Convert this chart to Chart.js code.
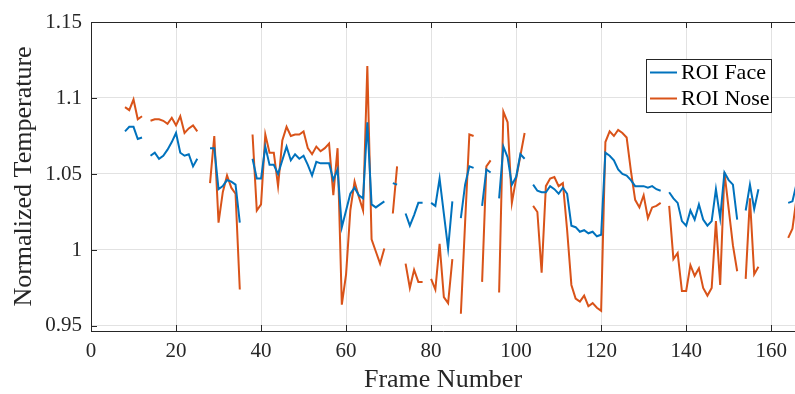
<!DOCTYPE html>
<html>
<head>
<meta charset="utf-8">
<title>Normalized Temperature</title>
<script src="https://cdn.jsdelivr.net/npm/chart.js@4.4.0/dist/chart.umd.min.js"></script>
<style>
  html, body { margin: 0; padding: 0; background: #fff; }
  #wrap { width: 795px; height: 394px; }
</style>
</head>
<body>
<div id="wrap"><canvas id="tempChart" width="795" height="394"></canvas></div>
<script>
// frame numbers and the two ROI series (null = frame dropped)
const frames = [
  8, 9, 10, 11, 12, 13, 14, 15, 16, 17,
  18, 19, 20, 21, 22, 23, 24, 25, 26, 27,
  28, 29, 30, 31, 32, 33, 34, 35, 36, 37,
  38, 39, 40, 41, 42, 43, 44, 45, 46, 47,
  48, 49, 50, 51, 52, 53, 54, 55, 56, 57,
  58, 59, 60, 61, 62, 63, 64, 65, 66, 67,
  68, 69, 70, 71, 72, 73, 74, 75, 76, 77,
  78, 79, 80, 81, 82, 83, 84, 85, 86, 87,
  88, 89, 90, 91, 92, 93, 94, 95, 96, 97,
  98, 99, 100, 101, 102, 103, 104, 105, 106, 107,
  108, 109, 110, 111, 112, 113, 114, 115, 116, 117,
  118, 119, 120, 121, 122, 123, 124, 125, 126, 127,
  128, 129, 130, 131, 132, 133, 134, 135, 136, 137,
  138, 139, 140, 141, 142, 143, 144, 145, 146, 147,
  148, 149, 150, 151, 152, 153, 154, 155, 156, 157,
  158, 159, 160, 161, 162, 163, 164, 165, 166
];

const faceTemp = [
  1.078, 1.081, 1.081, 1.073, 1.074, null,
  1.062, 1.064, 1.060, 1.062, 1.066, 1.071, 1.077, 1.064, 1.062, 1.063, 1.055, 1.060, null, null,
  1.067, 1.067, 1.040, 1.042, 1.046, 1.045, 1.043, 1.018, null, null,
  1.060, 1.047, 1.047, 1.068, 1.056, 1.056, 1.050, 1.059, 1.068, 1.059,
  1.063, 1.060, 1.062, 1.056, 1.049, 1.058, 1.057, 1.057, 1.057, 1.046,
  1.053, 1.015, 1.026, 1.037, 1.041, 1.036, 1.034, 1.084, 1.030, 1.028,
  1.030, 1.032, null,
  1.044, 1.043, null,
  1.024, 1.016, 1.023, 1.031, 1.031, null,
  1.031, 1.029, 1.047, 1.024, 1.001, 1.032, null,
  1.021, 1.043, 1.055, 1.054, null,
  1.029, 1.053, 1.051, null,
  1.034, 1.068, 1.061, 1.043, 1.048, 1.063, 1.060, null,
  1.043, 1.039, 1.038, 1.038, 1.042, 1.040, 1.037, 1.041, 1.037, 1.016,
  1.015, 1.012, 1.013, 1.011, 1.012, 1.009, 1.010, 1.064, 1.062, 1.059,
  1.053, 1.050, 1.049, 1.046, 1.042, 1.042, 1.042, 1.041, 1.042, 1.040,
  1.039, null,
  1.038, 1.034, 1.031, 1.019, 1.016, 1.026, 1.020, 1.030, 1.020, 1.016,
  1.019, 1.040, 1.021, 1.051, 1.046, 1.043, 1.020, null,
  1.026, 1.043, 1.027, 1.040, null, null, null, null, null, null,
  1.031, 1.032, 1.044
];

const noseTemp = [
  1.094, 1.092, 1.099, 1.086, 1.088, null,
  1.085, 1.086, 1.086, 1.085, 1.083, 1.087, 1.082, 1.088, 1.077, 1.080, 1.082, 1.078, null, null,
  1.044, 1.075, 1.018, 1.038, 1.049, 1.041, 1.037, 0.974, null, null,
  1.076, 1.026, 1.030, 1.076, 1.064, 1.064, 1.042, 1.072, 1.081, 1.075,
  1.076, 1.076, 1.078, 1.067, 1.063, 1.068, 1.065, 1.067, 1.070, 1.036,
  1.067, 0.964, 0.984, 1.026, 1.045, 1.035, 1.026, 1.121, 1.007, 0.999,
  0.991, 1.001, null,
  1.024, 1.055, null,
  0.991, 0.975, 0.987, 0.979, 0.979, null,
  0.981, 0.974, 1.004, 0.969, 0.965, 0.994, null,
  0.958, 1.018, 1.076, 1.075, null,
  0.979, 1.055, 1.059, null,
  0.972, 1.091, 1.084, 1.031, 1.047, 1.062, 1.077, null,
  1.029, 1.025, 0.985, 1.042, 1.047, 1.048, 1.042, 1.044, 1.013, 0.977,
  0.968, 0.966, 0.970, 0.963, 0.965, 0.962, 0.960, 1.071, 1.078, 1.075,
  1.079, 1.077, 1.074, 1.052, 1.033, 1.028, 1.036, 1.021, 1.028, 1.029,
  1.031, null,
  1.029, 0.994, 0.998, 0.973, 0.973, 0.990, 0.983, 0.988, 0.975, 0.970,
  0.975, 1.019, 0.977, 1.051, 1.027, 1.003, 0.986, null,
  0.981, 1.034, 0.984, 0.989, null, null, null, null, null, null,
  1.008, 1.014, 1.035
];

const xTicks = [0, 20, 40, 60, 80, 100, 120, 140, 160];
const yTicks = [0.95, 1, 1.05, 1.1, 1.15];
const yTickLabels = ['0.95', '1', '1.05', '1.1', '1.15'];
const seriesNames = ['ROI Face', 'ROI Nose'];
const seriesColors = ['#0072BD', '#D95319'];

const serif = "'Liberation Serif', 'Times New Roman', serif";
const axisColor = '#262626';

function toPoints(values) {
  return frames.map((f, i) => ({ x: f, y: values[i] }));
}

// matlab style box: top edge, inward tick marks, legend inside the axes
const matlabAxes = {
  id: 'matlabAxes',
  afterDraw(chart) {
    const { ctx, chartArea: a, scales } = chart;
    const tl = 6;
    ctx.save();
    ctx.strokeStyle = axisColor;
    ctx.lineWidth = 1;
    ctx.beginPath();
    ctx.moveTo(a.left, a.top + 0.5);
    ctx.lineTo(a.right, a.top + 0.5);
    xTicks.forEach(v => {
      const x = Math.round(scales.x.getPixelForValue(v)) + 0.5;
      ctx.moveTo(x, a.bottom);
      ctx.lineTo(x, a.bottom - tl);
      ctx.moveTo(x, a.top);
      ctx.lineTo(x, a.top + tl);
    });
    yTicks.forEach(v => {
      const y = Math.round(scales.y.getPixelForValue(v)) + 0.5;
      ctx.moveTo(a.left, y);
      ctx.lineTo(a.left + tl, y);
    });
    ctx.stroke();

    // legend
    const box = { left: 646, top: 59, right: 771, bottom: 112 };
    ctx.fillStyle = '#fff';
    ctx.fillRect(box.left, box.top, box.right - box.left, box.bottom - box.top);
    ctx.strokeStyle = axisColor;
    ctx.strokeRect(box.left + 0.5, box.top + 0.5, box.right - box.left, box.bottom - box.top);
    ctx.font = '22px ' + serif;
    ctx.textBaseline = 'middle';
    ctx.textAlign = 'left';
    chart.data.datasets.forEach((ds, i) => {
      const y = box.top + 13.5 + i * 26;
      ctx.strokeStyle = ds.borderColor;
      ctx.lineWidth = 2;
      ctx.beginPath();
      ctx.moveTo(650, y);
      ctx.lineTo(677, y);
      ctx.stroke();
      ctx.fillStyle = '#000';
      ctx.fillText(ds.label, 681, y + 1);
    });
    ctx.restore();
  }
};

new Chart(document.getElementById('tempChart'), {
  type: 'line',
  data: {
    datasets: [
      { label: seriesNames[0], data: toPoints(faceTemp), borderColor: seriesColors[0] },
      { label: seriesNames[1], data: toPoints(noseTemp), borderColor: seriesColors[1] }
    ]
  },
  options: {
    responsive: false,
    animation: false,
    spanGaps: false,
    layout: { padding: { top: 22, right: 0, bottom: 0, left: 0 } },
    elements: {
      line: { borderWidth: 2, tension: 0, fill: false },
      point: { radius: 0, hoverRadius: 0 }
    },
    plugins: {
      legend: { display: false },
      tooltip: { enabled: false }
    },
    scales: {
      x: {
        type: 'linear',
        min: 0,
        max: 165.6,
        afterBuildTicks: s => { s.ticks = xTicks.map(v => ({ value: v })); },
        afterFit: s => { s.height = 63; },
        ticks: {
          callback: v => String(v),
          font: { family: serif, size: 21 },
          color: axisColor,
          padding: 8,
          maxRotation: 0
        },
        grid: { color: '#e2e2e2', drawTicks: false },
        border: { display: true, color: axisColor, width: 1 },
        title: {
          display: true,
          text: 'Frame Number',
          font: { family: serif, size: 26, lineHeight: 1.1 },
          color: axisColor,
          padding: { top: 0, bottom: 0 }
        }
      },
      y: {
        min: 0.9467,
        max: 1.15,
        afterBuildTicks: s => { s.ticks = yTicks.map(v => ({ value: v })); },
        afterFit: s => { s.width = 91; },
        ticks: {
          callback: (v, i) => yTickLabels[i],
          font: { family: serif, size: 21 },
          color: axisColor,
          padding: 9
        },
        grid: { color: '#e2e2e2', drawTicks: false },
        border: { display: true, color: axisColor, width: 1 },
        title: {
          display: true,
          text: 'Normalized Temperature',
          font: { family: serif, size: 26, lineHeight: 1.1 },
          color: axisColor,
          padding: { top: 10, bottom: 0 }
        }
      }
    }
  },
  plugins: [matlabAxes]
});
</script>
</body>
</html>
